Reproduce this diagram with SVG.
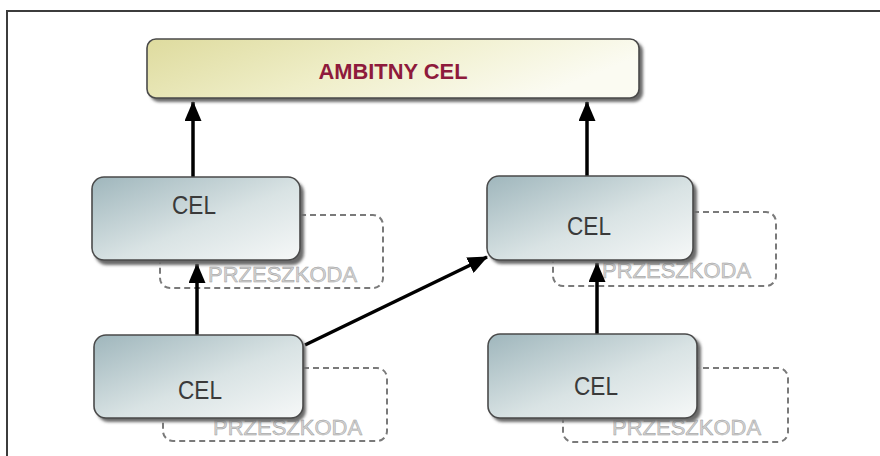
<svg xmlns="http://www.w3.org/2000/svg" width="880" height="456" viewBox="0 0 880 456">
<style>
.frame{stroke:#3c3c3c;stroke-width:2;fill:none}
.obst{fill:none;stroke:#7a7a7a;stroke-width:2;stroke-dasharray:6 4}
.obst-t{font-family:"Liberation Sans",Arial,sans-serif;font-size:22px;fill:#d2d2d2;stroke:#9a9a9a;stroke-width:0.45}
.goal{fill:url(#gBlue);stroke:#4a4a4a;stroke-width:1.6}
.shadow{fill:#6a6a6a;filter:url(#blur)}
.goal-t{font-family:"Liberation Sans",Arial,sans-serif;font-size:25px;fill:#3a3a3a;text-anchor:middle}
.top{fill:url(#gYel);stroke:#4a4a4a;stroke-width:1.6}
.top-t{font-family:"Liberation Sans",Arial,sans-serif;font-size:22px;font-weight:bold;fill:#8e1a3c;text-anchor:middle}
.conn{stroke:#000;stroke-width:3.5;fill:none;marker-end:url(#arr)}
</style>
<defs>
<linearGradient id="gBlue" x1="0" y1="0" x2="1" y2="1">
<stop offset="0" stop-color="#9fb6bc"/>
<stop offset="0.55" stop-color="#d9e3e4"/>
<stop offset="1" stop-color="#f6f8f8"/>
</linearGradient>
<linearGradient id="gYel" x1="0" y1="0" x2="1" y2="0.3">
<stop offset="0" stop-color="#dedb9e"/>
<stop offset="0.5" stop-color="#efeec8"/>
<stop offset="1" stop-color="#fbfbf2"/>
</linearGradient>
<filter id="blur" x="-10%" y="-10%" width="120%" height="130%">
<feGaussianBlur stdDeviation="1.5"/>
</filter>
<marker id="arr" markerUnits="userSpaceOnUse" markerWidth="20" markerHeight="17" viewBox="0 0 20 17" refX="19" refY="8.5" orient="auto">
<path d="M0,0 L20,8.5 L0,17 z" fill="#000"/>
</marker>
</defs>
<rect width="880" height="456" fill="#fff"/>
<path class="frame" d="M7,456 L7,11 L880,11"/>

<g id="obstacle1">
<rect class="obst" x="160" y="215" width="223" height="73" rx="10"/>
<text class="obst-t" x="208" y="282">PRZESZKODA</text>
</g>
<g id="obstacle2">
<rect class="obst" x="553" y="212" width="223" height="74" rx="10"/>
<text class="obst-t" x="602" y="278">PRZESZKODA</text>
</g>
<g id="obstacle3">
<rect class="obst" x="163" y="368" width="224" height="73" rx="10"/>
<text class="obst-t" x="213" y="435">PRZESZKODA</text>
</g>
<g id="obstacle4">
<rect class="obst" x="563" y="368" width="225" height="74" rx="10"/>
<text class="obst-t" x="612" y="435">PRZESZKODA</text>
</g>

<g id="connectors">
<line class="conn" x1="193" y1="177" x2="193" y2="102"/>
<line class="conn" x1="587" y1="176" x2="587" y2="102"/>
<line class="conn" x1="197" y1="335" x2="197" y2="264"/>
<line class="conn" x1="597" y1="334" x2="597" y2="263"/>
<line class="conn" x1="305" y1="345" x2="487" y2="257"/>
</g>

<g id="ambitny">
<rect class="shadow" x="150" y="42" width="493" height="60" rx="9"/>
<rect class="top" x="147" y="39" width="492" height="59" rx="9"/>
<text class="top-t" x="393" y="79" textLength="149" lengthAdjust="spacingAndGlyphs">AMBITNY CEL</text>
</g>
<g id="cel1">
<rect class="shadow" x="95" y="181" width="209" height="84" rx="12"/>
<rect class="goal" x="92" y="177" width="208" height="83" rx="12"/>
<text class="goal-t" x="194" y="214" textLength="44" lengthAdjust="spacingAndGlyphs">CEL</text>
</g>
<g id="cel2">
<rect class="shadow" x="490" y="180" width="207" height="84" rx="12"/>
<rect class="goal" x="487" y="176" width="206" height="84" rx="12"/>
<text class="goal-t" x="589" y="235" textLength="44" lengthAdjust="spacingAndGlyphs">CEL</text>
</g>
<g id="cel3">
<rect class="shadow" x="97" y="338" width="209" height="84" rx="12"/>
<rect class="goal" x="94" y="335" width="209" height="83" rx="12"/>
<text class="goal-t" x="200" y="399" textLength="44" lengthAdjust="spacingAndGlyphs">CEL</text>
</g>
<g id="cel4">
<rect class="shadow" x="491" y="337" width="210" height="85" rx="12"/>
<rect class="goal" x="488" y="334" width="209" height="84" rx="12"/>
<text class="goal-t" x="596" y="395" textLength="44" lengthAdjust="spacingAndGlyphs">CEL</text>
</g>
</svg>
